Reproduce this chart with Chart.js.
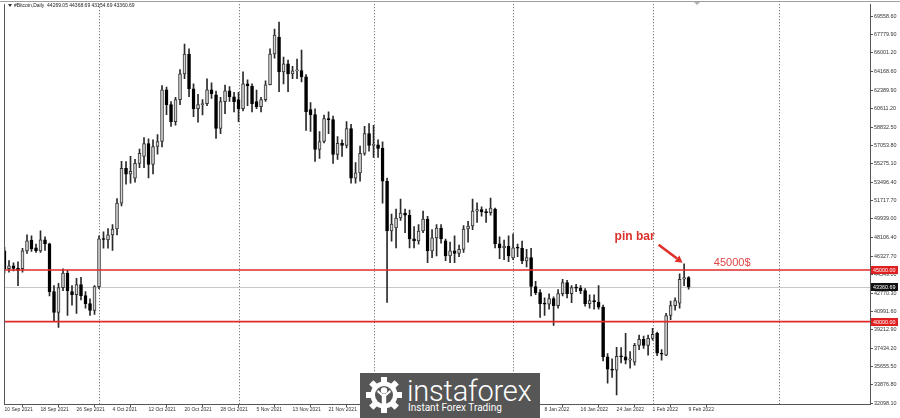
<!DOCTYPE html>
<html><head><meta charset="utf-8">
<script src="https://cdn.jsdelivr.net/npm/chart.js@4.4.1/dist/chart.umd.min.js"></script>
<style>
html,body{margin:0;padding:0;background:#fff;}
#wrap{position:relative;width:900px;height:418px;overflow:hidden;background:#fff;}
canvas{display:block;}
#logo{position:absolute;left:360px;top:373px;width:180px;height:45px;background:#565656;}
#logo .t1{position:absolute;left:47px;top:4px;font-family:Roboto,"Open Sans",sans-serif;font-weight:300;font-size:29px;line-height:29px;color:#fff;letter-spacing:-0.2px;white-space:nowrap;}
#logo .t2{position:absolute;left:48px;top:30px;font-family:Roboto,"Open Sans",sans-serif;font-weight:400;font-size:10px;line-height:10px;color:#fff;white-space:nowrap;}
#logo svg{position:absolute;left:5px;top:3px;}
</style></head><body>
<div id="wrap"><canvas id="c" width="900" height="418"></canvas>
<div id="logo">
<svg width="38" height="38" viewBox="-19 -19 38 38">
<g fill="#fff">
<circle r="13.5"/>
<rect x="-3" y="-18" width="6" height="8"/>
<rect x="-3" y="-18" width="6" height="8" transform="rotate(45)"/>
<rect x="-3" y="-18" width="6" height="8" transform="rotate(90)"/>
<rect x="-3" y="-18" width="6" height="8" transform="rotate(135)"/>
<rect x="-3" y="-18" width="6" height="8" transform="rotate(180)"/>
<rect x="-3" y="-18" width="6" height="8" transform="rotate(225)"/>
<rect x="-3" y="-18" width="6" height="8" transform="rotate(270)"/>
<rect x="-3" y="-18" width="6" height="8" transform="rotate(315)"/>
</g>
<circle r="9" fill="#565656"/>
<g fill="#fff">
<circle cx="0" cy="-4.5" r="3.2"/>
<path d="M-7,-3 L-2.2,1 L-2.2,10 L2.2,10 L2.2,1 L7,-3 L6,-5 L1.5,-1 L-1.5,-1 L-6,-5 Z"/>
</g>
</svg>
<div class="t1">instaforex</div>
<div class="t2">Instant Forex Trading</div>
</div>
</div>
<script>
// ---- data (daily candles, 10 Sep 2021 .. 9 Feb 2022) ----
const open = [
46850,45120,45400,45150,45120,46850,47900,47140,46850,47910,
47520,42900,40890,43290,44700,42900,42620,43580,42520,41750,
41080,43390,48010,47900,48390,48970,51470,54840,54260,53880,
55320,56000,57240,55220,56950,57430,62440,60995,59360,61480,
63980,65900,62535,60610,60995,61091,62438,61957,58686,61284,
62342,61765,61476,60610,63016,62800,61284,60803,61476,62919,
65902,67538,64170,64940,63978,64266,64300,63689,60514,60033,
56665,57435,59648,59552,56184,57243,57050,58686,53874,54400,
56280,58205,57050,57100,56761,53586,48776,49064,50026,50507,
50300,48006,47813,48776,49930,46851,48102,49064,47813,46370,
46851,46600,47000,48968,49257,50700,50850,50650,50550,50900,
47525,47140,47300,46177,47140,47100,45889,46200,43400,42810,
41751,41700,42232,41559,42714,43772,42714,43291,43250,43003,
41751,42040,41900,41400,36590,35402,35305,36653,36600,36268,
36076,37712,38289,37712,38385,38866,36942,36750,40597,41559,
41800,44100,44269.05];
const high = [
47200,45900,45700,45800,47100,48400,48300,47500,48780,48200,
47600,43500,43700,45100,45000,43500,44200,44300,42900,42200,
43500,48300,48700,49000,49400,51900,55510,55500,56000,55700,
56700,57800,57700,57600,58100,62850,62700,61300,61700,64400,
66870,66400,63000,62000,61500,63500,63100,62300,61700,62900,
62750,62200,62200,64170,63400,63000,62400,61700,63300,66400,
68300,68981,65600,65300,64700,65400,66287,63900,61200,60600,
58400,60000,60300,59900,57900,57600,59359,59100,55400,57000,
58900,59167,59000,57600,57400,53900,50400,50900,51854,50900,
50800,49200,49400,50700,50200,48900,49400,49400,48000,47700,
48300,47400,49300,49700,51854,51500,51100,50900,51950,51000,
48200,47900,48300,48487,47500,47800,47000,47100,43900,43100,
42300,42700,42400,43100,44100,44000,43500,43600,43500,43200,
42600,42600,43484,41600,36900,36400,37519,37500,38866,37100,
37900,38700,38600,38700,39350,39000,37300,40800,42000,42300,
44638,45600,44368.69];
const low = [
44700,44800,44900,43480,44800,46600,46800,46700,46700,46900,
42500,40050,39450,43000,40600,41600,40800,42100,41300,40600,
40700,43200,47100,47100,46900,48400,51200,53300,53390,53500,
54900,54900,53900,54300,56200,56900,60030,58900,59000,61000,
63500,61765,59840,59300,60000,60900,61600,57724,58200,60130,
61300,60300,59360,60400,60900,60300,60600,60300,61300,62900,
65500,62246,63000,62246,63500,63500,63208,58500,58400,55511,
55800,57300,58200,55300,55700,56000,56800,53393,53400,53600,
56100,56500,55900,55900,51469,41853,47800,47140,49800,48600,
47140,47140,47500,48600,45696,46200,46370,47600,45900,45700,
45700,46300,46700,47700,48900,49600,50200,49600,50300,47140,
46100,46000,45800,46000,46300,45600,45300,42500,42600,40405,
40600,41200,39635,41300,42500,42300,41847,42900,42700,41500,
41300,41200,41200,36200,34055,34600,32900,36000,35900,35500,
35800,37300,37400,36750,38200,36700,36268,36700,40200,41100,
41300,43480,43154.69];
const close = [
45120,45400,45150,44950,46850,47810,47050,46850,47910,47520,
42900,40890,43290,44700,43000,42620,43580,42520,41750,41080,
43390,48010,47950,48390,48970,51470,54840,54260,54550,55320,
56280,57240,55220,56950,57430,62440,60995,59360,61480,63980,
65900,62535,60610,60995,61091,62438,62053,58686,61284,62342,
61765,61284,60610,63016,62800,61091,60803,61476,62919,65902,
67730,64170,64940,63978,64266,64300,63689,60321,60033,56665,
57435,59648,59550,56184,57243,57050,58686,53874,54400,56280,
58205,57050,57100,56761,53586,48776,49450,50026,50507,50300,
48006,47813,48776,49930,46851,48102,49064,48006,46370,46851,
46600,47000,48968,49257,50700,50850,50650,50550,51000,47525,
47140,47300,46370,47140,47100,45889,46200,43400,42810,41751,
41700,42232,41559,42714,43772,42714,43291,43250,43003,41751,
42040,41900,41400,36590,35402,35305,36653,36600,36268,36400,
37712,38289,37712,38385,38770,36942,36846,40597,41559,42040,
44100,44269,43360.69];

const xTickPos = [0,8,16,24,32,40,48,56,64,72,80,88,96,104,112,120,128,136,144,152];
const xTickLabels = ['10 Sep 2021','18 Sep 2021','26 Sep 2021','4 Oct 2021','12 Oct 2021','20 Oct 2021','28 Oct 2021','5 Nov 2021','13 Nov 2021','21 Nov 2021','29 Nov 2021','7 Dec 2021','15 Dec 2021','23 Dec 2021','31 Dec 2021','8 Jan 2022','16 Jan 2022','24 Jan 2022','1 Feb 2022','9 Feb 2022'];
const yTickValues = [69558.60,67779.90,66001.20,64168.60,62389.90,60611.20,58832.50,57053.80,55275.10,53496.40,51717.70,49939.00,48106.40,46327.70,44549.00,42770.30,40991.60,39212.90,37434.20,35655.50,33876.80,32098.10];
const yTickLabels = ['69558.60','67779.90','66001.20','64168.60','62389.90','60611.20','58832.50','57053.80','55275.10','53496.40','51717.70','49939.00','48106.40','46327.70','44549.00','42770.30','40991.60','39212.90','37434.20','35655.50','33876.80','32098.10'];
const monthStartIdx = [21,52,82,113,144,172];
const levels = [45000,40000];
const levelLabels = ['45000.00','40000.00'];
const lastPrice = 43360.69;
const lastPriceLabel = '43360.69';
const pinBarIdx = 151;
const titleText = '#Bitcoin,Daily  44269.05 44368.69 43154.69 43360.69';

// ---- chart ----
const idx = open.map((_, i) => i);
const up = i => close[i] >= open[i];
const FONT = '"Liberation Sans", Arial, sans-serif';

const overlay = {
  id: 'overlay',
  beforeDatasetsDraw(chart) {
    const {ctx, chartArea: a, scales: {x, y}} = chart;
    ctx.save();
    ctx.strokeStyle = '#5a5a5a'; ctx.lineWidth = 1; ctx.setLineDash([1, 2]);
    monthStartIdx.forEach(m => {
      const px = Math.round(x.getPixelForValue(m)) + 0.5;
      ctx.beginPath(); ctx.moveTo(px, a.top); ctx.lineTo(px, a.bottom); ctx.stroke();
    });
    ctx.setLineDash([]);
    const py = Math.round(y.getPixelForValue(lastPrice)) + 0.5;
    ctx.strokeStyle = '#c8c8c8';
    ctx.beginPath(); ctx.moveTo(a.left, py); ctx.lineTo(a.right, py); ctx.stroke();
    ctx.restore();
  },
  afterDatasetsDraw(chart) {
    const {ctx, chartArea: a, scales: {y}} = chart;
    ctx.save();
    ctx.strokeStyle = '#e02a2a'; ctx.lineWidth = 1.6;
    levels.forEach(v => {
      const py = y.getPixelForValue(v);
      ctx.beginPath(); ctx.moveTo(a.left, py); ctx.lineTo(a.right, py); ctx.stroke();
    });
    ctx.restore();
  },
  afterDraw(chart) {
    const {ctx, chartArea: a, scales: {x, y}} = chart;
    ctx.save();
    // frame
    ctx.strokeStyle = '#a0a0a0'; ctx.lineWidth = 1;
    ctx.beginPath(); ctx.moveTo(0, 1.5); ctx.lineTo(chart.width, 1.5); ctx.stroke();
    ctx.strokeStyle = '#555';
    ctx.beginPath(); ctx.moveTo(a.left + 0.5, a.top); ctx.lineTo(a.left + 0.5, a.bottom); ctx.stroke();
    // shift marker
    ctx.fillStyle = '#b0b0b0';
    ctx.beginPath(); ctx.moveTo(694, 2); ctx.lineTo(700, 2); ctx.lineTo(697, 5); ctx.closePath(); ctx.fill();
    // title
    ctx.fillStyle = '#333';
    ctx.beginPath(); ctx.moveTo(8, 4); ctx.lineTo(12, 4); ctx.lineTo(10, 7); ctx.closePath(); ctx.fill();
    ctx.font = '5px ' + FONT; ctx.textBaseline = 'middle'; ctx.textAlign = 'left';
    ctx.fillStyle = '#222';
    ctx.fillText(titleText, 14, 5.5);
    // axis boxes
    ctx.font = '5.4px ' + FONT;
    const box = (v, txt, bg) => {
      const py = Math.round(y.getPixelForValue(v));
      ctx.fillStyle = bg; ctx.fillRect(a.right + 1, py - 4, 27, 8);
      ctx.fillStyle = '#fff'; ctx.textAlign = 'left';
      ctx.fillText(txt, a.right + 3, py + 0.5);
    };
    levels.forEach((v, k) => box(v, levelLabels[k], '#e02020'));
    box(lastPrice, lastPriceLabel, '#111');
    // annotations
    const tipX = x.getPixelForValue(pinBarIdx) - 1.5;
    const tipY = y.getPixelForValue(high[pinBarIdx]) - 1;
    const sx = tipX - 24, sy = tipY - 18;
    ctx.strokeStyle = '#e0302a'; ctx.fillStyle = '#e0302a'; ctx.lineWidth = 2.6;
    const ang = Math.atan2(tipY - sy, tipX - sx);
    const bx = tipX - 7 * Math.cos(ang), by = tipY - 7 * Math.sin(ang);
    ctx.beginPath(); ctx.moveTo(sx, sy); ctx.lineTo(bx, by); ctx.stroke();
    ctx.beginPath();
    ctx.moveTo(tipX, tipY);
    ctx.lineTo(bx + 4 * Math.sin(ang), by - 4 * Math.cos(ang));
    ctx.lineTo(bx - 4 * Math.sin(ang), by + 4 * Math.cos(ang));
    ctx.closePath(); ctx.fill();
    ctx.font = 'bold 12px ' + FONT; ctx.textBaseline = 'alphabetic'; ctx.textAlign = 'left';
    ctx.fillStyle = '#d9312b';
    ctx.fillText('pin bar', tipX - 68, tipY - 23);
    ctx.font = '11px ' + FONT; ctx.fillStyle = '#e04545';
    ctx.fillText('45000$', x.getPixelForValue(157.6), y.getPixelForValue(levels[0]) - 4);
    ctx.restore();
  }
};

new Chart(document.getElementById('c'), {
  type: 'bar',
  data: {
    datasets: [
      {
        label: 'body',
        data: idx.map(i => ({x: i, y: [open[i], close[i]]})),
        barThickness: 3, minBarLength: 1, borderWidth: 1, borderSkipped: false,
        grouped: false, order: 0,
        backgroundColor: c => up(c.dataIndex) ? '#d4d4d4' : '#000',
        borderColor: c => up(c.dataIndex) ? '#333' : '#000'
      },
      {
        label: 'wick',
        data: idx.map(i => ({x: i, y: [low[i], high[i]]})),
        barThickness: 1, borderWidth: 0, grouped: false, order: 1,
        backgroundColor: '#2a2a2a'
      }
    ]
  },
  options: {
    responsive: false, animation: false, events: [],
    layout: {padding: {left: 4, top: 2, right: 0, bottom: 0}},
    plugins: {legend: {display: false}, tooltip: {enabled: false}, title: {display: false}},
    scales: {
      x: {
        type: 'linear', min: -0.11, max: 192.3, bounds: 'data', offset: false,
        afterBuildTicks: s => { s.ticks = xTickPos.map(v => ({value: v})); },
        afterFit: s => { s.height = 14; },
        ticks: {
          autoSkip: false, maxRotation: 0, minRotation: 0, align: 'start', padding: 0,
          callback: (v, i) => xTickLabels[i],
          font: {size: 5, family: FONT}, color: '#333'
        },
        grid: {drawOnChartArea: false, drawTicks: true, tickLength: 3, color: '#555'},
        border: {display: true, color: '#555'}
      },
      y: {
        type: 'linear', position: 'right', min: 32033, max: 70713, bounds: 'data',
        afterBuildTicks: s => { s.ticks = yTickValues.map(v => ({value: v})); },
        afterFit: s => { s.width = 30; },
        ticks: {
          autoSkip: false, padding: 1, crossAlign: 'near',
          callback: (v, i) => yTickLabels[i],
          font: {size: 5.4, family: FONT}, color: '#333'
        },
        grid: {drawOnChartArea: false, drawTicks: true, tickLength: 3, color: '#555'},
        border: {display: true, color: '#555'}
      }
    }
  },
  plugins: [overlay]
});
</script>
</body></html>
